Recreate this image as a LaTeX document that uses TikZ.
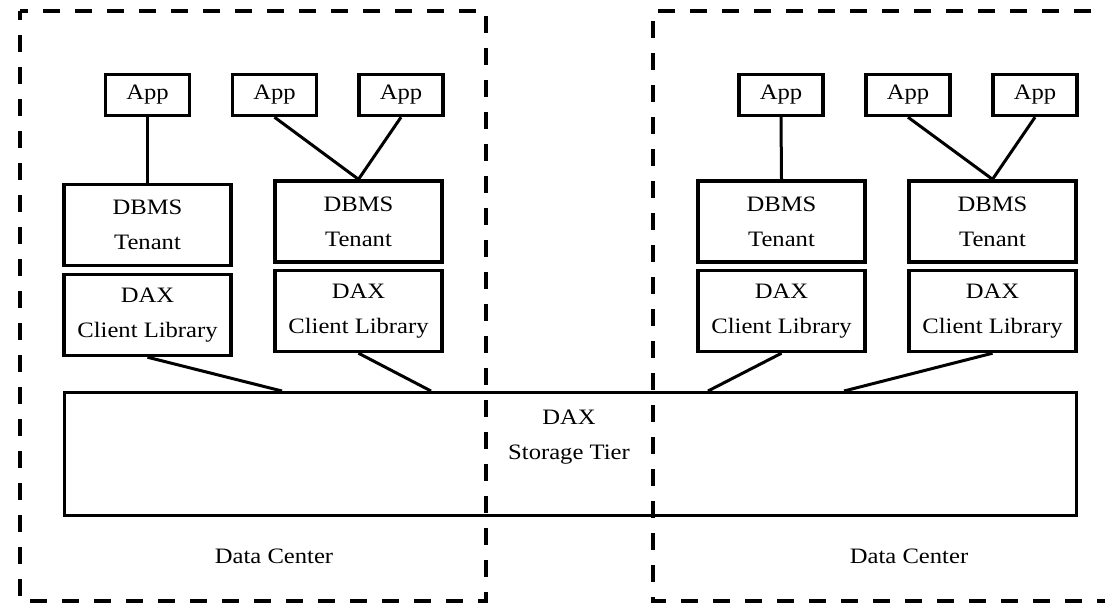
\documentclass[tikz,border=0pt]{standalone}
\usepackage{fontspec}
\setmainfont{Liberation Serif}[FakeStretch=1.12]
\begin{document}
\begin{tikzpicture}[x=1pt,y=-1pt,
  box/.style={draw,line width=3.4pt,inner sep=0pt,align=center,
    font=\fontsize{22}{35}\selectfont},
  appbox/.style={box,minimum width=84pt,minimum height=41pt},
  tenbox/.style={box,minimum width=167pt,minimum height=81pt},
  link/.style={line width=3pt},
  dc/.style={line width=3.6pt,dash pattern=on 17pt off 15pt},
  lbl/.style={align=center,inner sep=0pt,font=\fontsize{22}{35}\selectfont}]
\useasboundingbox (0,0) rectangle (1105,606);

% data center boundaries
\draw[dc,dash phase=8pt] (20,11) rectangle (486,601);
\draw[dc,dash phase=8pt] (1115,11) -- (653,11) -- (653,601) -- (1115,601);

% storage tier
\node[box,minimum width=1012pt,minimum height=123pt] (storage) at (570.5,454) {};
\node[lbl] (stlabel) at (569,437) {DAX\\Storage Tier};

% left data center
\node[appbox] (app1) at (147.5,95) {App};
\node[appbox] (app2) at (274.5,95) {App};
\node[appbox] (app3) at (401,95) {App};
\node[tenbox] (dbms1) at (147.5,225) {DBMS\\Tenant};
\node[tenbox] (dax1) at (147.5,315) {DAX\\Client Library};
\node[tenbox] (dbms2) at (358.5,221.5) {DBMS\\Tenant};
\node[tenbox] (dax2) at (358.5,311) {DAX\\Client Library};

% right data center
\node[appbox] (app5) at (781,95) {App};
\node[appbox] (app6) at (908,95) {App};
\node[appbox] (app7) at (1035,95) {App};
\node[tenbox] (dbms3) at (781.5,221.5) {DBMS\\Tenant};
\node[tenbox] (dax3) at (781.5,311) {DAX\\Client Library};
\node[tenbox] (dbms4) at (992.5,221.5) {DBMS\\Tenant};
\node[tenbox] (dax4) at (992.5,311) {DAX\\Client Library};

% attachment points on the storage tier
\coordinate (s1) at (282,391);
\coordinate (s2) at (431,391);
\coordinate (s3) at (708,391);
\coordinate (s4) at (844,391);

% connectors
\draw[link] (app1.south) -- (dbms1.north);
\draw[link] (app2.south) -- (dbms2.north);
\draw[link] (app3.south) -- (dbms2.north);
\draw[link] (app5.south) -- (dbms3.north);
\draw[link] (app6.south) -- (dbms4.north);
\draw[link] (app7.south) -- (dbms4.north);
\draw[link] (dax1.south) -- (s1);
\draw[link] (dax2.south) -- (s2);
\draw[link] (dax3.south) -- (s3);
\draw[link] (dax4.south) -- (s4);

% data center captions
\node[lbl] (dcleft) at (274,556) {Data Center};
\node[lbl] (dcright) at (909,556) {Data Center};
\end{tikzpicture}
\end{document}
